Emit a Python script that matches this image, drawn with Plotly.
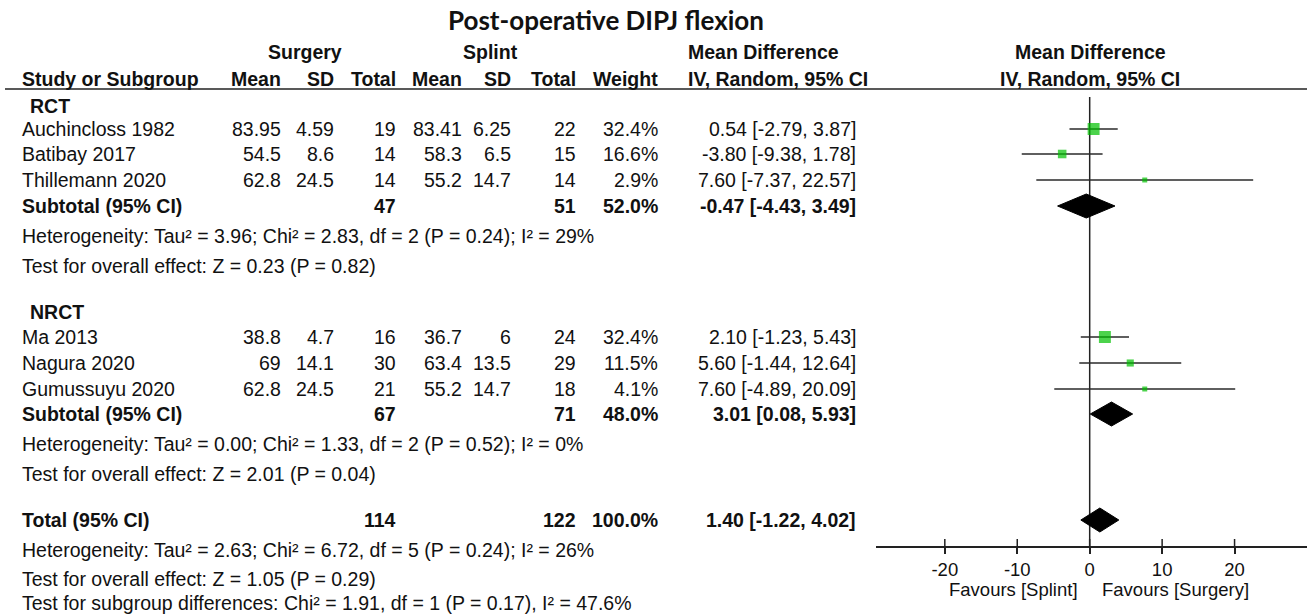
import plotly.graph_objects as go

W, H = 1307, 615

# ---------------- data ----------------
title = "Post-operative DIPJ flexion"
group_labels = ["RCT", "NRCT"]
studies = ["Auchincloss 1982", "Batibay 2017", "Thillemann 2020",
           "Ma 2013", "Nagura 2020", "Gumussuyu 2020"]
surg_mean = [83.95, 54.5, 62.8, 38.8, 69, 62.8]
surg_sd = [4.59, 8.6, 24.5, 4.7, 14.1, 24.5]
surg_n = [19, 14, 14, 16, 30, 21]
spl_mean = [83.41, 58.3, 55.2, 36.7, 63.4, 55.2]
spl_sd = [6.25, 6.5, 14.7, 6, 13.5, 14.7]
spl_n = [22, 15, 14, 24, 29, 18]
weight = [32.4, 16.6, 2.9, 32.4, 11.5, 4.1]
md = [0.54, -3.80, 7.60, 2.10, 5.60, 7.60]
md_lo = [-2.79, -9.38, -7.37, -1.23, -1.44, -4.89]
md_hi = [3.87, 1.78, 22.57, 5.43, 12.64, 20.09]

sub_surg_n = [47, 67]
sub_spl_n = [51, 71]
sub_weight = [52.0, 48.0]
sub_md = [-0.47, 3.01]
sub_lo = [-4.43, 0.08]
sub_hi = [3.49, 5.93]
sub_het = ["Heterogeneity: Tau² = 3.96; Chi² = 2.83, df = 2 (P = 0.24); I² = 29%",
           "Heterogeneity: Tau² = 0.00; Chi² = 1.33, df = 2 (P = 0.52); I² = 0%"]
sub_test = ["Test for overall effect: Z = 0.23 (P = 0.82)",
            "Test for overall effect: Z = 2.01 (P = 0.04)"]

tot_surg_n = 114
tot_spl_n = 122
tot_weight = 100.0
tot_md = 1.40
tot_lo = -1.22
tot_hi = 4.02
tot_lines = ["Heterogeneity: Tau² = 2.63; Chi² = 6.72, df = 5 (P = 0.24); I² = 26%",
             "Test for overall effect: Z = 1.05 (P = 0.29)",
             "Test for subgroup differences: Chi² = 1.91, df = 1 (P = 0.17), I² = 47.6%"]

tick_vals = [-20, -10, 0, 10, 20]
favours = ["Favours [Splint]", "Favours [Surgery]"]

# ---------------- layout constants (pixels) ----------------
FONT = "Arial, Liberation Sans, sans-serif"
FS = 19.5
study_y = [129, 154, 180, 337, 363, 389]
group_y = [106, 312]
subtotal_y = [206, 414]
het_y = [236, 444]
test_y = [266, 474]
total_y = 520
total_text_y = [550, 579, 603]
AXIS_Y = 546
ZERO_TOP = 97

col_x = dict(name=20, group=28, sm=283, ssd=336, sn=398, pm=464, psd=513, pn=578,
             w=660, ci=858)

fig = go.Figure()


def px(x):
    return x / W


def py(y):
    return 1 - y / H


def txt(x, y, s, anchor="left", bold=False, size=FS, family=FONT):
    fig.add_annotation(x=px(x), y=py(y), xref="paper", yref="paper", text=s,
                       showarrow=False, xanchor=anchor, yanchor="middle",
                       font=dict(family=family, size=size, color="#111",
                                 weight="bold" if bold else "normal"))


def g(v):
    return f"{v:g}"


# title & headers
txt(606, 20, title, anchor="center", bold=True, size=26, family="Lato, Open Sans, sans-serif")
txt(305, 52, "Surgery", anchor="center", bold=True)
txt(490, 52, "Splint", anchor="center", bold=True)
txt(686, 52, "Mean Difference", bold=True)
txt(1090, 52, "Mean Difference", anchor="center", bold=True)
HY = 79
txt(col_x["name"], HY, "Study or Subgroup", bold=True)
txt(col_x["sm"], HY, "Mean", anchor="right", bold=True)
txt(col_x["ssd"], HY, "SD", anchor="right", bold=True)
txt(col_x["sn"], HY, "Total", anchor="right", bold=True)
txt(col_x["pm"], HY, "Mean", anchor="right", bold=True)
txt(col_x["psd"], HY, "SD", anchor="right", bold=True)
txt(col_x["pn"], HY, "Total", anchor="right", bold=True)
txt(col_x["w"], HY, "Weight", anchor="right", bold=True)
txt(686, HY, "IV, Random, 95% CI", bold=True)
txt(1090, HY, "IV, Random, 95% CI", anchor="center", bold=True)
fig.add_shape(type="line", xref="paper", yref="paper", x0=px(5), x1=px(W), y0=py(89), y1=py(89),
              line=dict(color="#222", width=1.5))

# study rows
for i, s in enumerate(studies):
    y = study_y[i]
    txt(col_x["name"], y, s)
    txt(col_x["sm"], y, g(surg_mean[i]), anchor="right")
    txt(col_x["ssd"], y, g(surg_sd[i]), anchor="right")
    txt(col_x["sn"], y, g(surg_n[i]), anchor="right")
    txt(col_x["pm"], y, g(spl_mean[i]), anchor="right")
    txt(col_x["psd"], y, g(spl_sd[i]), anchor="right")
    txt(col_x["pn"], y, g(spl_n[i]), anchor="right")
    txt(col_x["w"], y, f"{weight[i]:.1f}%", anchor="right")
    txt(col_x["ci"], y, f"{md[i]:.2f} [{md_lo[i]:.2f}, {md_hi[i]:.2f}]", anchor="right")

for k in range(2):
    txt(col_x["group"], group_y[k], group_labels[k], bold=True)
    y = subtotal_y[k]
    txt(col_x["name"], y, "Subtotal (95% CI)", bold=True)
    txt(col_x["sn"], y, g(sub_surg_n[k]), anchor="right", bold=True)
    txt(col_x["pn"], y, g(sub_spl_n[k]), anchor="right", bold=True)
    txt(col_x["w"], y, f"{sub_weight[k]:.1f}%", anchor="right", bold=True)
    txt(col_x["ci"], y, f"{sub_md[k]:.2f} [{sub_lo[k]:.2f}, {sub_hi[k]:.2f}]", anchor="right", bold=True)
    txt(col_x["name"], het_y[k], sub_het[k])
    txt(col_x["name"], test_y[k], sub_test[k])

txt(col_x["name"], total_y, "Total (95% CI)", bold=True)
txt(col_x["sn"], total_y, g(tot_surg_n), anchor="right", bold=True)
txt(col_x["pn"], total_y, g(tot_spl_n), anchor="right", bold=True)
txt(col_x["w"], total_y, f"{tot_weight:.1f}%", anchor="right", bold=True)
txt(col_x["ci"], total_y, f"{tot_md:.2f} [{tot_lo:.2f}, {tot_hi:.2f}]", anchor="right", bold=True)
for j, s in enumerate(tot_lines):
    txt(col_x["name"], total_text_y[j], s)

# ---------------- forest plot ----------------
fig.add_shape(type="line", xref="x", yref="y", x0=0, x1=0, y0=ZERO_TOP, y1=AXIS_Y,
              line=dict(color="#222", width=1.5), layer="below")

sizes = [max(5, 2.1 * w ** 0.5) for w in weight]
fig.add_trace(go.Scatter(
    x=md, y=study_y, mode="markers",
    marker=dict(symbol="square", size=sizes, color="#00C000", line=dict(width=0)),
    error_x=dict(type="data", symmetric=False,
                 array=[h - m for h, m in zip(md_hi, md)],
                 arrayminus=[m - l for m, l in zip(md, md_lo)],
                 width=0, thickness=1.6, color="#2a2a2a"),
    hoverinfo="skip", showlegend=False))

DH = 12
diamonds = [(sub_md[k], sub_lo[k], sub_hi[k], subtotal_y[k]) for k in range(2)]
diamonds.append((tot_md, tot_lo, tot_hi, total_y))
for est, lo, hi, y in diamonds:
    fig.add_trace(go.Scatter(
        x=[lo, est, hi, est, lo], y=[y, y - DH, y, y + DH, y], mode="lines",
        fill="toself", fillcolor="black", line=dict(color="black", width=1),
        hoverinfo="skip", showlegend=False))

# upward half of tick marks
for v in tick_vals:
    fig.add_shape(type="line", xref="x", yref="y", x0=v, x1=v, y0=AXIS_Y - 7, y1=AXIS_Y,
                  line=dict(color="#222", width=1.5))

txt(1080, 589, favours[0], anchor="right", size=18.5)
txt(1100, 589, favours[1], anchor="left", size=18.5)

fig.update_layout(
    width=W, height=H, margin=dict(l=0, r=0, t=0, b=0),
    paper_bgcolor="white", plot_bgcolor="white", showlegend=False,
    xaxis=dict(domain=[876 / W, 1], range=[-29.5, 30], showgrid=False, zeroline=False,
               showline=True, linecolor="#222", linewidth=1.5,
               ticks="outside", ticklen=6, tickwidth=1.5, tickcolor="#222",
               tickvals=tick_vals, ticktext=[str(v) for v in tick_vals],
               tickfont=dict(family=FONT, size=18.5, color="#111"), anchor="y", fixedrange=True),
    yaxis=dict(domain=[1 - AXIS_Y / H, 1], range=[AXIS_Y, 0], visible=False, fixedrange=True),
)

fig.write_html("out.html", config={"displayModeBar": False},
               post_script="document.body.style.margin='0';document.body.style.overflow='hidden';")
